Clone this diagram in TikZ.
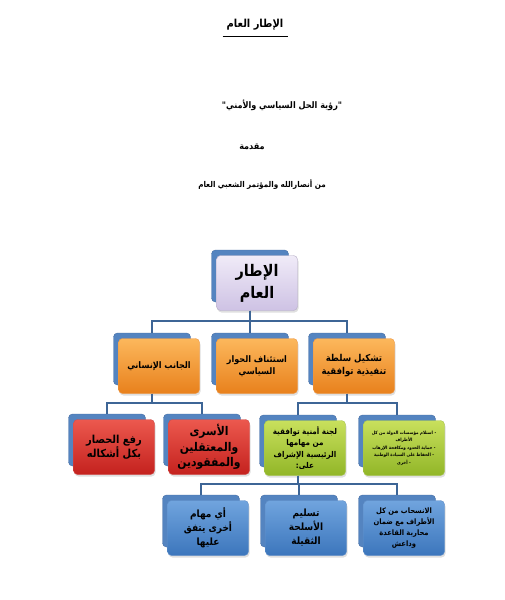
\documentclass[tikz,border=0pt]{standalone}
\usepackage{fontspec}
\usetikzlibrary{positioning,shadows}
\newfontfamily\arabicfont[Script=Arabic]{DejaVu Sans Condensed}
\TeXXeTstate=1
\newcommand{\artxt}[1]{\beginR #1\endR}
\definecolor{mylinecol}{RGB}{61,101,150}
\definecolor{mybackcol}{RGB}{84,132,192}
\definecolor{mybackedge}{RGB}{70,110,165}
\definecolor{lavtop}{RGB}{240,235,248}
\definecolor{lavbot}{RGB}{206,194,228}
\definecolor{orgtop}{RGB}{252,184,92}
\definecolor{orgbot}{RGB}{232,128,28}
\definecolor{redtop}{RGB}{236,88,78}
\definecolor{redbot}{RGB}{196,34,30}
\definecolor{grntop}{RGB}{200,224,92}
\definecolor{grnbot}{RGB}{146,182,40}
\definecolor{blutop}{RGB}{112,164,222}
\definecolor{blubot}{RGB}{60,118,188}

\begin{document}
\begin{tikzpicture}[
  x=1pt, y=-1pt,
  myline/.style={draw=mylinecol, line width=1.6pt},
  myback/.style={
    draw=mybackedge,
    fill=mybackcol,
    rounded corners=4pt,
    minimum width=77pt,
    minimum height=52pt
    },
  myfront/.style={
    rounded corners=4pt,
    minimum width=81pt,
    minimum height=55pt,
    align=center,
    inner sep=1pt,
    drop shadow={opacity=0.25, shadow xshift=1pt, shadow yshift=-2pt},
    font=\arabicfont\bfseries\fontsize{9}{12}\selectfont
    },
  lavbox/.style={top color=lavtop, bottom color=lavbot, draw=lavbot!70!gray},
  orgbox/.style={top color=orgtop, bottom color=orgbot, draw=orgbot!80!white},
  redbox/.style={top color=redtop, bottom color=redbot, draw=redbot!80!white},
  grnbox/.style={top color=grntop, bottom color=grnbot, draw=grnbot!80!white},
  blubox/.style={top color=blutop, bottom color=blubot, draw=blubot!80!white},
  myhead/.style={font=\arabicfont\bfseries\fontsize{#1}{#1}\selectfont, inner sep=2pt}
]
\fill[white] (0,0) rectangle (505,600);
\useasboundingbox (0,0) rectangle (505,600);

% header
\node[myhead=11] (hdr) at (255,25) {\artxt{الإطار العام}};
\draw[line width=0.8pt] ([xshift=-2pt,yshift=-4pt]hdr.south west) -- ([xshift=2pt,yshift=-4pt]hdr.south east);
\node[myhead=9] (ttl) at (282,105) {\artxt{"رؤية الحل السياسي والأمني"}};
\node[myhead=9] (intro) at (252,147) {\artxt{مقدمة}};
\node[myhead=8] (from) at (262,185) {\artxt{من أنصارالله والمؤتمر الشعبي العام}};

% root
\node[myback] (rootb) at (250,276) {};
\node[myfront, lavbox, font=\arabicfont\bfseries\fontsize{16}{22}\selectfont]
  (root) at ([xshift=7pt,yshift=-7pt]rootb) {\artxt{الإطار}\\\artxt{العام}};

% first level
\node[myback] (h1b) at (152,359) {};
\node[myfront, orgbox] (h1) at ([xshift=7pt,yshift=-7pt]h1b) {\artxt{الجانب الإنساني}};
\node[myback] (h2b) at (250,359) {};
\node[myfront, orgbox] (h2) at ([xshift=7pt,yshift=-7pt]h2b) {\artxt{استئناف الحوار}\\\artxt{السياسي}};
\node[myback] (h3b) at (347,359) {};
\node[myfront, orgbox, font=\arabicfont\bfseries\fontsize{9.5}{13}\selectfont]
  (h3) at ([xshift=7pt,yshift=-7pt]h3b) {\artxt{تشكيل سلطة}\\\artxt{تنفيذية توافقية}};

% second level
\node[myback] (r1b) at (107,440) {};
\node[myfront, redbox, font=\arabicfont\bfseries\fontsize{11}{14}\selectfont]
  (r1) at ([xshift=7pt,yshift=-7pt]r1b) {\artxt{رفع الحصار}\\\artxt{بكل أشكاله}};
\node[myback] (r2b) at (202,440) {};
\node[myfront, redbox, font=\arabicfont\bfseries\fontsize{12}{15.5}\selectfont]
  (r2) at ([xshift=7pt,yshift=-7pt]r2b) {\artxt{الأسرى}\\\artxt{والمعتقلين}\\\artxt{والمفقودين}};
\node[myback] (g1b) at (298,441) {};
\node[myfront, grnbox, font=\arabicfont\bfseries\fontsize{8}{11.5}\selectfont]
  (g1) at ([xshift=7pt,yshift=-7pt]g1b) {\artxt{لجنة أمنية توافقية}\\\artxt{من مهامها}\\\artxt{الرئيسية الإشراف}\\\artxt{على:}};
\node[myback] (g2b) at (397,441) {};
\node[myfront, grnbox, font=\arabicfont\bfseries\fontsize{4.5}{7.5}\selectfont]
  (g2) at ([xshift=7pt,yshift=-7pt]g2b) {\artxt{- استلام مؤسسات الدولة من كل}\\\artxt{الأطراف}\\\artxt{- حماية الحدود ومكافحة الإرهاب}\\\artxt{- الحفاظ على السيادة الوطنية}\\\artxt{- أخرى}};

% third level
\node[myback] (b1b) at (201,521) {};
\node[myfront, blubox, font=\arabicfont\bfseries\fontsize{10}{14}\selectfont]
  (b1) at ([xshift=7pt,yshift=-7pt]b1b) {\artxt{أي مهام}\\\artxt{أخرى يتفق}\\\artxt{عليها}};
\node[myback] (b2b) at (299,521) {};
\node[myfront, blubox, font=\arabicfont\bfseries\fontsize{10}{14}\selectfont]
  (b2) at ([xshift=7pt,yshift=-7pt]b2b) {\artxt{تسليم}\\\artxt{الأسلحة}\\\artxt{الثقيلة}};
\node[myback] (b3b) at (397,521) {};
\node[myfront, blubox, font=\arabicfont\bfseries\fontsize{7.5}{11}\selectfont]
  (b3) at ([xshift=7pt,yshift=-7pt]b3b) {\artxt{الانسحاب من كل}\\\artxt{الأطراف مع ضمان}\\\artxt{محاربة القاعدة}\\\artxt{وداعش}};

% connectors
\foreach \kid in {h1b,h2b,h3b}
  \draw[myline] (rootb |- root.south) -- ++(0,10) -| (\kid.north);
\foreach \kid in {r1b,r2b}
  \draw[myline] (h1b |- h1.south) -- ++(0,9) -| (\kid.north);
\foreach \kid in {g1b,g2b}
  \draw[myline] (h3b |- h3.south) -- ++(0,9) -| (\kid.north);
\foreach \kid in {b1b,b2b,b3b}
  \draw[myline] (g1b |- g1.south) -- ++(0,8) -| (\kid.north);

\end{tikzpicture}
\end{document}
